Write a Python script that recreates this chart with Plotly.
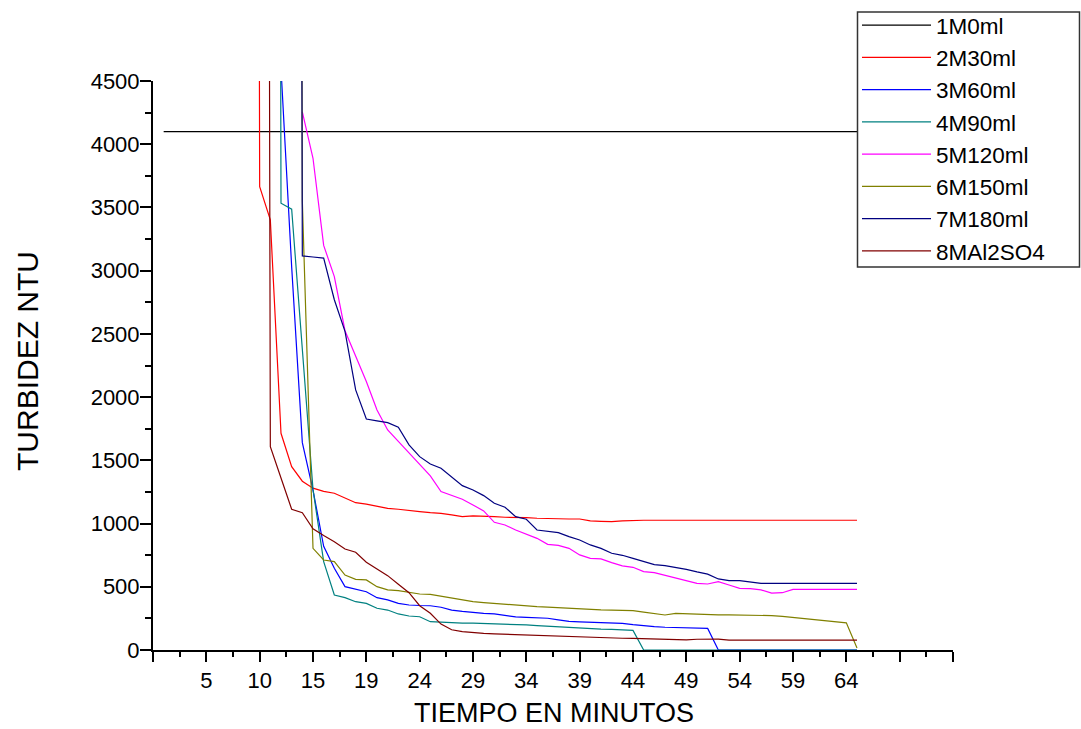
import plotly.graph_objects as go

# ---- data (x = row index used by the original chart; values in NTU) ----
TICK_POS = [0, 5, 10, 15, 20, 25, 30, 35, 40, 45, 50, 55, 60, 65, 70, 75]
TICK_LABELS = ["", "5", "10", "15", "19", "24", "29", "34", "39", "44", "49", "54", "59", "64", "", ""]

NAMES = ["1M0ml", "2M30ml", "3M60ml", "4M90ml", "5M120ml", "6M150ml", "7M180ml", "8MAl2SO4"]
COLORS = ["#000000", "#ff0000", "#0000ff", "#008080", "#ff00ff", "#808000", "#000080", "#800000"]

START_1M0 = 1
Y_1M0 = [4100, 4100, 4100, 4100, 4100, 4100, 4100, 4100, 4100, 4100,
         4100, 4100, 4100, 4100, 4100, 4100, 4100, 4100, 4100, 4100,
         4100, 4100, 4100, 4100, 4100, 4100, 4100, 4100, 4100, 4100,
         4100, 4100, 4100, 4100, 4100, 4100, 4100, 4100, 4100, 4100,
         4100, 4100, 4100, 4100, 4100, 4100, 4100, 4100, 4100, 4100,
         4100, 4100, 4100, 4100, 4100, 4100, 4100, 4100, 4100, 4100,
         4100, 4100, 4100, 4100, 4100, 4100]

START_2M30 = 9
Y_2M30 = [40000, 3665, 3402, 1714, 1450, 1335, 1280, 1255, 1240, 1200,
          1165, 1153, 1139, 1120, 1113, 1102, 1094, 1086, 1081, 1068,
          1055, 1060, 1060, 1055, 1050, 1050, 1047, 1042, 1039, 1036,
          1036, 1036, 1021, 1018, 1015, 1021, 1026, 1026, 1026, 1026,
          1026, 1026, 1026, 1026, 1026, 1026, 1026, 1026, 1026, 1026,
          1026, 1026, 1026, 1026, 1026, 1026, 1026, 1026]

START_3M60 = 12
Y_3M60 = [4600, 3030, 1640, 1265, 820, 646, 501, 480, 461, 414,
          396, 369, 356, 352, 350, 338, 316, 305, 295, 290,
          285, 275, 262, 258, 255, 251, 238, 226, 222, 218,
          216, 214, 211, 200, 190, 185, 180, 178, 177, 175,
          171, 0, 0, 0, 0, 0, 0, 0, 0, 0,
          0, 0, 0, 0, 0]

START_4M90 = 11
Y_4M90 = [40000, 3534, 3486, 2380, 1270, 699, 435, 414, 382, 369,
          330, 316, 285, 269, 263, 224, 219, 215, 213, 212,
          210, 208, 206, 203, 198, 193, 188, 182, 176, 171,
          168, 165, 163, 160, 155, 0, 0, 0, 0, 0,
          0, 0, 0, 0, 0, 0, 0, 0, 0, 0,
          0, 0, 0, 0, 0, 0]

START_5M120 = 14
Y_5M120 = [4255, 3889, 3200, 2953, 2525, 2320, 2123, 1898, 1740, 1650,
           1556, 1470, 1377, 1253, 1221, 1192, 1147, 1100, 1010, 989,
           949, 915, 883, 836, 828, 804, 752, 725, 720, 691,
           665, 654, 620, 612, 590, 567, 545, 527, 522, 541,
           514, 488, 485, 475, 450, 453, 480, 480, 480, 480,
           480, 480, 480]

START_6M150 = 13
Y_6M150 = [40000, 3550, 804, 712, 699, 593, 559, 554, 501, 475,
           469, 453, 443, 440, 427, 409, 395, 382, 375, 368,
           361, 355, 349, 343, 339, 334, 330, 326, 322, 318,
           316, 313, 311, 300, 288, 277, 290, 286, 282, 280,
           278, 277, 277, 277, 277, 272, 266, 258, 250, 240,
           230, 222, 215, 15]

START_7M180 = 13
Y_7M180 = [40000, 3117, 3108, 3099, 2770, 2520, 2057, 1827, 1812, 1798,
           1762, 1622, 1529, 1471, 1437, 1366, 1300, 1266, 1221, 1160,
           1129, 1055, 1034, 949, 936, 928, 897, 870, 831, 804,
           765, 749, 725, 699, 675, 667, 655, 638, 618, 600,
           562, 548, 548, 540, 527, 527, 527, 527, 527, 527,
           527, 527, 527, 527]

START_8AL = 10
Y_8AL = [40000, 1608, 1360, 1113, 1086, 958, 905, 857, 799, 773,
         694, 638, 588, 520, 453, 350, 290, 205, 160, 145,
         137, 132, 128, 125, 122, 119, 115, 110, 106, 104,
         102, 100, 98, 96, 93, 92, 90, 89, 86, 82,
         80, 85, 87, 86, 78, 78, 78, 78, 78, 78,
         78, 78, 78, 78, 78, 78, 78]

SERIES = [
    (START_1M0, Y_1M0), (START_2M30, Y_2M30), (START_3M60, Y_3M60), (START_4M90, Y_4M90),
    (START_5M120, Y_5M120), (START_6M150, Y_6M150), (START_7M180, Y_7M180), (START_8AL, Y_8AL),
]

FONT = "Liberation Sans, Arial, sans-serif"

# plot area in pixels: x 153..953, y 81..650
PX_L, PX_R, PX_T, PX_B = 153, 953, 81, 650


def px_x(p):
    return (p - PX_L) / (PX_R - PX_L)


def px_y(p):
    return (PX_B - p) / (PX_B - PX_T)


fig = go.Figure()
for name, color, (start, ys) in zip(NAMES, COLORS, SERIES):
    xs = list(range(start, start + len(ys)))
    fig.add_trace(go.Scatter(x=xs, y=ys, mode="lines", name=name,
                             line=dict(color=color, width=1.2)))

fig.update_layout(
    width=1081, height=729,
    margin=dict(l=PX_L, r=1081 - PX_R, t=PX_T, b=729 - PX_B, autoexpand=False),
    paper_bgcolor="white", plot_bgcolor="white",
    font=dict(family=FONT, color="black"),
    showlegend=True,
    legend=dict(
        x=px_x(857), xanchor="left", y=px_y(4), yanchor="top",
        bgcolor="rgba(0,0,0,0)", borderwidth=0,
        font=dict(family=FONT, size=22.5, color="black"),
        itemwidth=69, tracegroupgap=0,
    ),
    shapes=[
        dict(type="rect", xref="paper", yref="paper", layer="above",
             x0=px_x(857.5), x1=px_x(1079.5), y0=px_y(267), y1=px_y(12),
             line=dict(color="#333333", width=1.5), fillcolor="white"),
    ],
    xaxis=dict(
        range=[0, 75], showgrid=False, zeroline=False,
        showline=True, linecolor="black", linewidth=2,
        tickmode="array", tickvals=TICK_POS, ticktext=TICK_LABELS,
        ticks="outside", ticklen=10, tickwidth=2, tickcolor="black",
        tickfont=dict(family=FONT, size=22, color="black"),
        minor=dict(dtick=2.5, tick0=0, ticks="outside", ticklen=5, tickwidth=2, tickcolor="black"),
    ),
    yaxis=dict(
        range=[0, 4500], showgrid=False, zeroline=False,
        showline=True, linecolor="black", linewidth=2,
        tickmode="linear", tick0=0, dtick=500,
        ticks="outside", ticklen=11, tickwidth=2, tickcolor="black",
        tickfont=dict(family=FONT, size=22, color="black"),
        ticklabelstandoff=-4,
        minor=dict(dtick=250, tick0=0, ticks="outside", ticklen=6, tickwidth=2, tickcolor="black"),
    ),
    annotations=[
        dict(text="TIEMPO EN MINUTOS", xref="paper", yref="paper",
             x=px_x(554), y=px_y(713), xanchor="center", yanchor="middle",
             showarrow=False, font=dict(family=FONT, size=27, color="black")),
        dict(text="TURBIDEZ NTU", xref="paper", yref="paper",
             x=px_x(27), y=px_y(361), xanchor="center", yanchor="middle",
             textangle=-90, showarrow=False, font=dict(family=FONT, size=30, color="black")),
    ],
)

fig.write_html("out.html", config={"displayModeBar": False},
               post_script="document.body.style.margin='0';")
